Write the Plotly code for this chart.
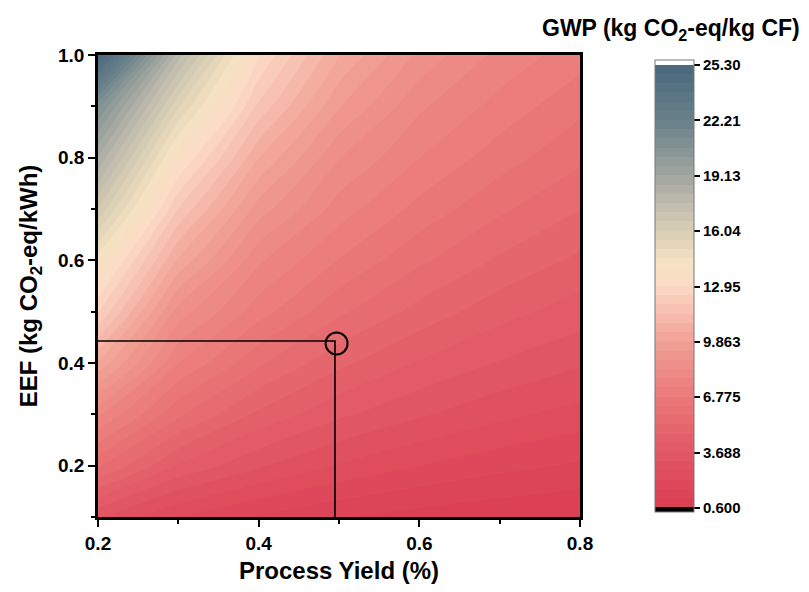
import plotly.graph_objects as go

# ---------------- data ----------------
process_yield = [0.2, 0.3, 0.4, 0.5, 0.6, 0.7, 0.8]
eef = [0.1, 0.2, 0.3, 0.4, 0.5, 0.6, 0.7, 0.8, 0.9, 1.0]
# GWP (kg CO2-eq/kg CF); one row per EEF value, one column per yield value
gwp = [
    [3.25, 2.15, 1.55, 1.17, 0.90, 0.73, 0.60],
    [5.85, 4.15, 3.25, 2.60, 2.15, 1.80, 1.55],
    [7.90, 5.85, 4.60, 3.80, 3.25, 2.80, 2.45],
    [10.30, 7.30, 5.85, 4.85, 4.15, 3.65, 3.25],
    [12.50, 8.60, 7.00, 5.85, 5.05, 4.40, 3.95],
    [14.20, 10.30, 7.90, 6.75, 5.85, 5.15, 4.60],
    [16.50, 11.90, 9.10, 7.55, 6.60, 5.85, 5.25],
    [18.60, 13.60, 10.40, 8.35, 7.30, 6.50, 5.85],
    [20.80, 15.60, 11.80, 9.40, 7.90, 7.10, 6.40],
    [25.30, 17.80, 13.00, 10.40, 8.70, 7.65, 7.00],
]
cbar_ticktext = ["0.600", "3.688", "6.775", "9.863", "12.95", "16.04", "19.13", "22.21", "25.30"]
gwp_min = 0.6
gwp_max = 25.3
# highlighted operating point
point_yield = 0.495
point_eef = 0.443
circle_yield = 0.497
circle_eef = 0.438

# ---------------- styling ----------------
n_per_tick = 6
tick_step = (gwp_max - gwp_min) / 8
cs = tick_step / n_per_tick
nlev = 49  # number of contour levels from gwp_min to gwp_max
cbar_tickvals = [gwp_min + i * tick_step for i in range(9)]

anchors = [
    (0.6, (218, 62, 84)),
    (3.688, (226, 88, 100)),
    (6.775, (234, 122, 122)),
    (9.863, (241, 160, 148)),
    (12.95, (252, 218, 198)),
    (14.2, (246, 226, 194)),
    (16.04, (216, 206, 180)),
    (17.6, (192, 186, 174)),
    (19.13, (160, 166, 158)),
    (22.21, (104, 128, 138)),
    (25.3, (72, 104, 124)),
]


def pos(v):
    return ((v - gwp_min) / cs + 0.5) / nlev


cscale = [[0.0, "rgb(0,0,0)"], [pos(gwp_min), "rgb(0,0,0)"]]
for v, c in anchors:
    cscale.append([pos(v), "rgb(%d,%d,%d)" % c])
cscale.append([pos(gwp_max), "rgb(255,255,255)"])
cscale.append([1.0, "rgb(255,255,255)"])

# page has an 8px body margin, so the figure is drawn 8px smaller / shifted
OFF = 8
W, H = 809 - OFF, 592 - OFF
L, R, T, B = 98 - OFF, 580 - OFF, 55 - OFF, 517 - OFF
pw, ph = R - L, B - T

FONT = "Liberation Sans, Arial, sans-serif"

fig = go.Figure()
fig.add_trace(go.Contour(
    x=process_yield, y=eef, z=gwp,
    colorscale=cscale,
    autocontour=False,
    contours=dict(start=gwp_min, end=gwp_max, size=cs, coloring="fill", showlines=False),
    line=dict(width=0),
    colorbar=dict(
        x=(655 - OFF - L) / pw, xanchor="left",
        y=(B - (286.5 - OFF)) / ph, yanchor="middle",
        len=452 / ph, lenmode="fraction",
        thickness=39, thicknessmode="pixels",
        xpad=0, ypad=0,
        outlinecolor="rgb(120,120,120)", outlinewidth=1,
        tickmode="array", tickvals=cbar_tickvals, ticktext=cbar_ticktext,
        ticks="outside", ticklen=6, tickwidth=2, tickcolor="black",
        tickfont=dict(family=FONT, size=15, color="black", weight="bold"),
    ),
    hoverinfo="skip",
))

fig.add_trace(go.Scatter(
    x=[process_yield[0], point_yield, point_yield],
    y=[point_eef, point_eef, eef[0]],
    mode="lines", line=dict(color="black", width=1.6),
    showlegend=False, hoverinfo="skip",
))
fig.add_trace(go.Scatter(
    x=[circle_yield], y=[circle_eef], mode="markers",
    marker=dict(symbol="circle-open", size=22, color="black", line=dict(width=2, color="black")),
    showlegend=False, hoverinfo="skip",
))

axis_common = dict(
    showline=True, linecolor="black", linewidth=2.5, mirror=True,
    ticks="outside", ticklen=7, tickwidth=2, tickcolor="black",
    showgrid=False, zeroline=False, automargin=False,
    tickfont=dict(family=FONT, size=19, color="black", weight="bold"),
    title_font=dict(family=FONT, size=24, color="black", weight="bold"),
)

fig.update_xaxes(
    range=[0.2, 0.8], dtick=0.2, tick0=0.2, tickformat=".1f",
    minor=dict(dtick=0.1, tick0=0.2, ticks="outside", ticklen=4, tickwidth=2, tickcolor="black"),
    title_text="Process Yield (%)", title_standoff=10,
    **axis_common,
)
fig.update_yaxes(
    range=[0.1, 1.0], dtick=0.2, tick0=0.2, tickformat=".1f",
    minor=dict(dtick=0.1, tick0=0.1, ticks="outside", ticklen=4, tickwidth=2, tickcolor="black"),
    title_text="EEF (kg CO<sub>2</sub>-eq/kWh)", title_standoff=14,
    **axis_common,
)

fig.add_annotation(
    text="<b>GWP (kg CO<sub>2</sub>-eq/kg CF)</b>",
    xref="paper", yref="paper",
    x=(540 - OFF - L) / pw, y=(B - (30 - OFF)) / ph, xanchor="left", yanchor="middle",
    showarrow=False,
    font=dict(family=FONT, size=23, color="black"),
)

fig.update_layout(
    width=W, height=H,
    margin=dict(l=L, r=W - R, t=T, b=H - B),
    paper_bgcolor="white", plot_bgcolor="white",
    showlegend=False,
)

fig.write_html("out.html")
